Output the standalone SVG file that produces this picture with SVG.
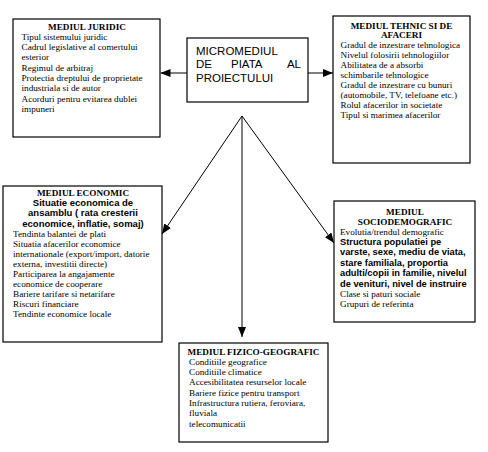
<svg xmlns="http://www.w3.org/2000/svg" width="488" height="452" viewBox="0 0 488 452">
<style>
.box{fill:#fff;stroke:#000;stroke-width:1.2}
.t{font-family:"Liberation Serif","Times New Roman",serif;font-size:9.2px;fill:#000}
.tb{font-family:"Liberation Serif","Times New Roman",serif;font-size:9.2px;font-weight:bold;fill:#000;text-anchor:middle}
.sb{font-family:"Liberation Sans",Arial,sans-serif;font-size:9.5px;font-weight:bold;fill:#000}
.sb2{font-family:"Liberation Sans",Arial,sans-serif;font-size:9.3px;font-weight:bold;fill:#000}
.m{font-family:"Liberation Sans",Arial,sans-serif;font-size:11.5px;fill:#000}
.c{stroke:#000;stroke-width:1;fill:none;marker-end:url(#ah)}
</style>
<defs>
<marker id="ah" markerUnits="userSpaceOnUse" markerWidth="10" markerHeight="8" refX="10" refY="4" orient="auto">
<path d="M0,0 L10,4 L0,8 z" fill="#000"/>
</marker>
</defs>
<rect width="488" height="452" fill="#fff"/>
<g id="connectors">
<line class="c" x1="187" y1="73" x2="160.5" y2="73"/>
<line class="c" x1="308" y1="73" x2="333" y2="73"/>
<line class="c" x1="242" y1="116" x2="162" y2="234"/>
<line class="c" x1="242" y1="116" x2="334" y2="243"/>
<line class="c" x1="242" y1="116" x2="242" y2="337"/>
</g>
<g id="micromediul">
<rect class="box" x="187" y="38" width="121" height="64"/>
<text class="m" x="196" y="55">MICROMEDIUL</text>
<text class="m" x="196" y="68.3">DE</text>
<text class="m" x="231" y="68.3">PIATA</text>
<text class="m" x="301" y="68.3" text-anchor="end">AL</text>
<text class="m" x="196" y="81.7">PROIECTULUI</text>
</g>
<g id="juridic">
<rect class="box" x="13" y="19" width="147" height="118"/>
<text class="tb" x="87" y="29.5">MEDIUL JURIDIC</text>
<text class="t" x="21.5" y="39.8">Tipul sistemului juridic</text>
<text class="t" x="21.5" y="50.1">Cadrul legislative al comertului</text>
<text class="t" x="21.5" y="60.4">esterior</text>
<text class="t" x="21.5" y="70.7">Regimul de arbitraj</text>
<text class="t" x="21.5" y="81">Protectia dreptului de proprietate</text>
<text class="t" x="21.5" y="91.3">industriala si de autor</text>
<text class="t" x="21.5" y="101.6">Acorduri pentru evitarea dublei</text>
<text class="t" x="21.5" y="111.9">impuneri</text>
</g>
<g id="tehnic">
<rect class="box" x="333" y="16" width="137" height="147"/>
<text class="tb" x="401.5" y="28.5">MEDIUL TEHNIC SI DE</text>
<text class="tb" x="401.5" y="38">AFACERI</text>
<text class="t" x="340.5" y="48">Gradul de inzestrare tehnologica</text>
<text class="t" x="340.5" y="58">Nivelul folosirii tehnologiilor</text>
<text class="t" x="340.5" y="68">Abilitatea de a absorbi</text>
<text class="t" x="340.5" y="78">schimbarile tehnologice</text>
<text class="t" x="340.5" y="88">Gradul de inzestrare cu bunuri</text>
<text class="t" x="340.5" y="98">(automobile, TV, telefoane etc.)</text>
<text class="t" x="340.5" y="108">Rolul afacerilor in societate</text>
<text class="t" x="340.5" y="118">Tipul si marimea afacerilor</text>
</g>
<g id="economic">
<rect class="box" x="3" y="186" width="159" height="156"/>
<text class="tb" x="83" y="195.5">MEDIUL ECONOMIC</text>
<text class="sb" x="83" y="205.5" text-anchor="middle">Situatie economica de</text>
<text class="sb" x="83" y="216" text-anchor="middle">ansamblu ( rata cresterii</text>
<text class="sb" x="83" y="226.5" text-anchor="middle">economice, inflatie, somaj)</text>
<text class="t" x="13" y="236.5">Tendinta balantei de plati</text>
<text class="t" x="13" y="246.5">Situatia afacerilor economice</text>
<text class="t" x="13" y="256.5">internationale (export/import, datorie</text>
<text class="t" x="13" y="266.5">externa, investitii directe)</text>
<text class="t" x="13" y="276.5">Participarea la angajamente</text>
<text class="t" x="13" y="286.5">economice de cooperare</text>
<text class="t" x="13" y="296.5">Bariere tarifare si netarifare</text>
<text class="t" x="13" y="306.5">Riscuri financiare</text>
<text class="t" x="13" y="316.5">Tendinte economice locale</text>
</g>
<g id="sociodemografic">
<rect class="box" x="334" y="201" width="141" height="121"/>
<text class="tb" x="405" y="215">MEDIUL</text>
<text class="tb" x="405" y="225">SOCIODEMOGRAFIC</text>
<text class="t" x="340" y="234.5">Evolutia/trendul demografic</text>
<text class="sb2" x="340" y="244.5">Structura populatiei pe</text>
<text class="sb2" x="340" y="255">varste, sexe, mediu de viata,</text>
<text class="sb2" x="340" y="265.5">stare familiala, proportia</text>
<text class="sb2" x="340" y="276">adulti/copii in familie, nivelul</text>
<text class="sb2" x="340" y="286.5">de venituri, nivel de instruire</text>
<text class="t" x="340" y="296.5">Clase si paturi sociale</text>
<text class="t" x="340" y="306.5">Grupuri de referinta</text>
</g>
<g id="fizico">
<rect class="box" x="179" y="343" width="149" height="99"/>
<text class="tb" x="253.5" y="354.5">MEDIUL FIZICO-GEOGRAFIC</text>
<text class="t" x="189" y="364.8">Conditiile geografice</text>
<text class="t" x="189" y="375.1">Conditiile climatice</text>
<text class="t" x="189" y="385.4">Accesibilitatea resurselor locale</text>
<text class="t" x="189" y="395.7">Bariere fizice pentru transport</text>
<text class="t" x="189" y="406">Infrastructura rutiera, feroviara,</text>
<text class="t" x="189" y="416.3">fluviala</text>
<text class="t" x="189" y="426.6">telecomunicatii</text>
</g>
</svg>
